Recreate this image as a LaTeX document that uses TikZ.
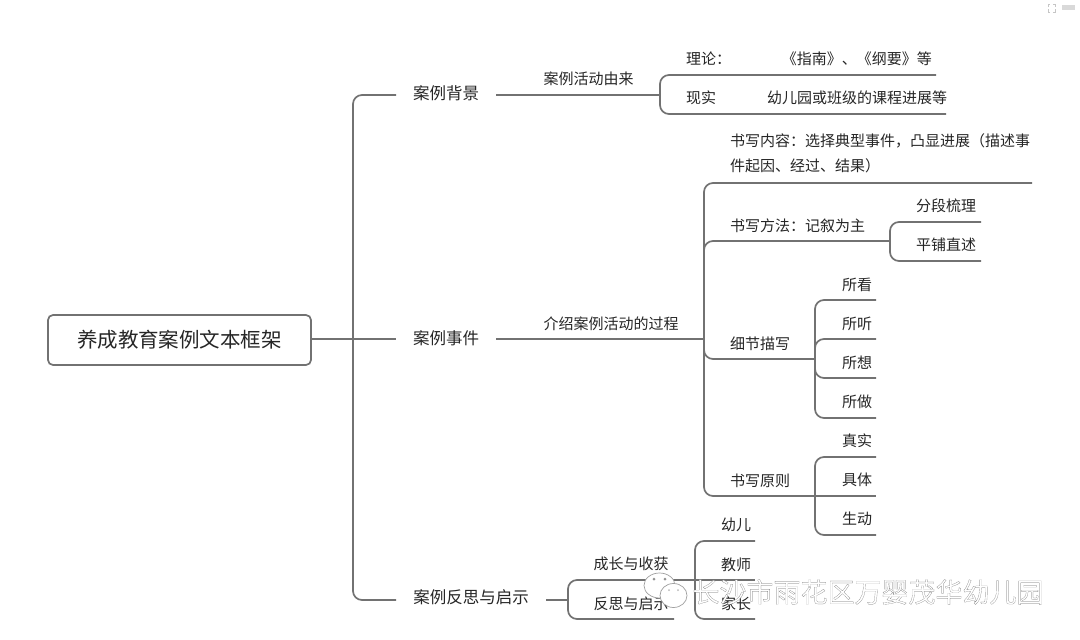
\documentclass[tikz,border=0pt]{standalone}
\usepackage{fontspec}
\setmainfont{Noto Sans CJK SC}
\newfontfamily\wmfont[FakeBold=0.5]{Noto Sans CJK SC}
\definecolor{linkc}{HTML}{727272}
\definecolor{textc}{HTML}{262626}
\begin{document}
\begin{tikzpicture}[x=1pt,y=-1pt,
  link/.style={draw=linkc,line width=1.7pt,rounded corners=9pt},
  lone/.style={draw=linkc,line width=1.7pt},
  big/.style={font=\fontsize{16.5pt}{18pt}\selectfont,text=textc,inner sep=0pt},
  txt/.style={font=\fontsize{15pt}{25pt}\selectfont,text=textc,inner sep=0pt,yshift=-0.7pt},
  wmark/.style={font=\wmfont\fontsize{27pt}{30pt}\selectfont,text=white,inner sep=0pt}]
\useasboundingbox (0,0) rectangle (1080,640);
\fill[white] (0,0) rectangle (1080,640);

% root
\node[draw=linkc,line width=1.7pt,rounded corners=5pt,minimum width=263pt,minimum height=50pt,inner sep=0pt,
  font=\fontsize{20.5pt}{24pt}\selectfont,text=textc] (root) at (179.5,340) {养成教育案例文本框架};

% level 1
\node[big] (bg) at (446,93) {案例背景};
\node[big] (ev) at (446,338) {案例事件};
\node[big] (re) at (471,597) {案例反思与启示};
\coordinate (bgL) at (396,95);
\coordinate (evL) at (396,339);
\coordinate (reL) at (396,600);
\coordinate (bgR) at (496,95);
\coordinate (evR) at (496,339);
\coordinate (reR) at (546,600);
\draw[lone] (root.east |- evL) -- (evL);
\draw[link] (bgL) -| (353,339) |- (reL);

% background branch
\node[txt] (src) at (588.5,78) {案例活动由来};
\coordinate (srcR) at (660,95);
\draw[lone] (bgR) -- (srcR);
\node[txt,anchor=west] (th) at (686,58) {理论：};
\node[txt,anchor=east] (th2) at (932,58) {《指南》、《纲要》等};
\node[txt,anchor=west] (pr) at (686,97) {现实};
\node[txt,anchor=west] (pr2) at (767,97) {幼儿园或班级的课程进展等};
\coordinate (thE) at (936,75);
\coordinate (prE) at (946,114);
\draw[link] (thE) -| (srcR) |- (prE);

% event branch
\node[txt] (intro) at (611,323) {介绍案例活动的过程};
\coordinate (introR) at (704,339);
\draw[lone] (evR) -- (introR);
\node[txt,anchor=north west,align=left,text width=310pt] (wc) at (730,133) {书写内容：选择典型事件，凸显进展（描述事\\件起因、经过、结果）};
\coordinate (wcE) at (1032,183);
\node[txt,anchor=west] (wm) at (730,225) {书写方法：记叙为主};
\coordinate (wmM) at (890,241);
\node[txt,anchor=west] (wd) at (730,343) {细节描写};
\coordinate (wdM) at (815,359);
\node[txt,anchor=west] (wp) at (730,480) {书写原则};
\coordinate (wpE) at (815,496);
\draw[link] (wcE) -| (introR) |- (wpE);
\draw[link] (wmM) -| (introR);
\draw[link] (introR) |- (wdM);

% method
\node[txt] (m1) at (946,205) {分段梳理};
\node[txt] (m2) at (946,244) {平铺直述};
\coordinate (m1E) at (981,222);
\coordinate (m2E) at (981,261);
\draw[link] (m1E) -| (wmM) |- (m2E);

% detail
\node[txt] (d1) at (857,284) {所看};
\node[txt] (d2) at (857,323) {所听};
\node[txt] (d3) at (857,362) {所想};
\node[txt] (d4) at (857,401) {所做};
\coordinate (d1E) at (876,300);
\coordinate (d2E) at (876,339);
\coordinate (d3E) at (876,378);
\coordinate (d4E) at (876,418);
\draw[link] (d1E) -| (wdM) |- (d4E);
\draw[link] (d2E) -| (wdM);
\draw[link] (wdM) |- (d3E);

% principle
\node[txt] (p1) at (857,440) {真实};
\node[txt] (p2) at (857,479) {具体};
\node[txt] (p3) at (857,518) {生动};
\coordinate (p1E) at (876,457);
\coordinate (p2E) at (876,496);
\coordinate (p3E) at (876,535);
\draw[link] (p1E) -| (wpE) |- (p3E);
\draw[lone] (wpE) -- (p2E);

% reflection branch
\node[txt] (gr) at (631,563) {成长与收获};
\node[txt] (rf) at (631,603) {反思与启示};
\coordinate (reM) at (568,600);
\coordinate (grE) at (674,580);
\coordinate (rfE) at (674,619);
\draw[lone] (reR) -- (reM);
\draw[link] (grE) -| (reM) |- (rfE);
\coordinate (grM) at (695,580);
\node[txt] (k1) at (736,524) {幼儿};
\node[txt] (k2) at (736,564) {教师};
\node[txt] (k3) at (736,603) {家长};
\coordinate (k1E) at (755,541);
\coordinate (k2E) at (755,580);
\coordinate (k3E) at (755,619);
\draw[lone] (grE) -- (k2E);
\draw[link] (k1E) -| (grM) |- (k3E);

% top-right mark
\begin{scope}[draw=gray!45,line width=0.7pt]
\draw (1048,7) |- (1050,4) (1053,4) -| (1055,7) (1055,9) |- (1053,12) (1050,12) -| (1048,9);
\end{scope}
\fill[gray!30] (1062,5) rectangle (1075,10);

% watermark
\begin{scope}[draw=gray!75,line width=0.7pt]
\draw[fill=white] (659.5,585.5) ellipse (15.5pt and 12.5pt);
\draw[fill=white] (673.5,595.5) ellipse (13.5pt and 12pt);
\fill[gray!85] (654,579) circle (1.5pt) (665,579) circle (1.5pt);
\fill[gray!55] (669,590) circle (1pt) (678,590) circle (1pt);
\end{scope}
\node[wmark] (wtm) at (868,592) {\special{pdf:code 0.42 G}长沙市雨花区万婴茂华幼儿园};
\end{tikzpicture}
\end{document}
